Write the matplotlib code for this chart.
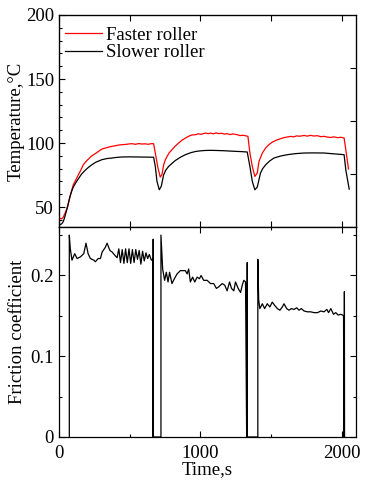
import numpy as np
import matplotlib
matplotlib.use("Agg")
import matplotlib.pyplot as plt
from matplotlib.ticker import MultipleLocator

# temperature readings, faster roller (time in s, temperature in C)
fastTime = [0, 19, 30, 43, 55, 62, 78, 90, 101, 120, 137, 155, 172, 190, 208, 230, 255, 280,
            303, 325, 350, 374, 400, 420, 445, 470, 495, 516, 540, 565, 587, 610, 630, 650,
            669, 681, 700, 716, 728, 740, 752, 764, 780, 799, 820, 846, 870, 894, 915, 940,
            965, 985, 1005, 1035, 1055, 1071, 1090, 1110, 1130, 1150, 1170, 1189, 1210, 1230,
            1260, 1280, 1300, 1319, 1336, 1350, 1367, 1385, 1402, 1414, 1438, 1460, 1484,
            1510, 1544, 1570, 1590, 1615, 1640, 1660, 1680, 1700, 1733, 1755, 1780, 1800,
            1828, 1850, 1875, 1900, 1922, 1945, 1970, 1995, 2016, 2028, 2047]
fastTemp = [41.4, 40.8, 42.0, 45.3, 48.5, 50.5, 58.3, 63.0, 67.4, 71.5, 75.2, 79.0, 83.0, 85.5,
            87.5, 89.8, 91.6, 93.5, 95.3, 96.0, 96.8, 97.4, 97.9, 98.4, 98.7, 98.9, 99.3, 99.5,
            99.0, 99.6, 99.2, 99.4, 99.0, 99.5, 99.5, 92.2, 80.5, 73.4, 75.2, 83.0, 86.8, 89.5,
            92.5, 94.8, 97.4, 100.0, 102.2, 103.9, 105.2, 106.3, 106.5, 107.2, 106.8, 107.8,
            107.3, 107.8, 107.2, 107.9, 107.4, 107.6, 107.0, 107.3, 106.6, 107.1, 106.5, 105.8,
            106.1, 105.7, 105.2, 92.2, 81.7, 73.9, 76.6, 85.6, 92.2, 96.0, 98.7, 100.8, 102.6,
            103.5, 104.2, 104.7, 105.2, 104.8, 105.6, 105.3, 105.9, 105.4, 106.0, 105.5, 105.7,
            105.0, 105.2, 104.6, 104.4, 104.8, 104.2, 104.5, 103.9, 94.8, 79.7]

# temperature readings, slower roller
slowTime = [7, 20, 31, 43, 55, 66, 78, 90, 101, 120, 137, 160, 184, 208, 232, 260, 303, 340,
            374, 410, 445, 500, 563, 620, 669, 681, 693, 709, 723, 740, 755, 775, 800, 823,
            860, 894, 930, 965, 1000, 1035, 1070, 1110, 1165, 1230, 1290, 1331, 1350, 1367,
            1385, 1402, 1425, 1440, 1461, 1490, 1520, 1565, 1615, 1670, 1733, 1800, 1874,
            1940, 2016, 2028, 2052]
slowTemp = [36.2, 37.0, 38.8, 43.0, 47.9, 53.0, 58.3, 62.5, 65.6, 69.2, 72.1, 75.8, 78.6, 81.0,
            83.0, 85.0, 87.0, 87.9, 88.3, 88.8, 89.1, 89.2, 89.1, 89.0, 88.9, 81.7, 70.0, 63.5,
            66.1, 75.2, 78.8, 81.7, 84.2, 86.4, 89.0, 90.9, 92.4, 93.4, 93.9, 94.2, 94.3, 94.2,
            94.0, 93.6, 93.3, 93.0, 81.7, 70.0, 63.5, 65.6, 76.6, 80.0, 83.0, 86.0, 88.3, 89.8,
            90.9, 91.7, 92.2, 92.3, 92.2, 91.6, 90.9, 79.1, 64.0]

# friction coefficient (spikes at the start/stop of each run included)
fricTime = [73, 73, 80, 92, 111, 128, 151, 175, 191, 206, 222, 246, 257, 277, 293, 305, 328,
            340, 360, 376, 395, 411, 423, 435, 447, 459, 471, 483, 495, 507, 519, 531, 543,
            555, 567, 579, 591, 603, 615, 627, 639, 653, 662, 666, 666, 667, 721, 721, 733,
            747, 759, 771, 782, 799, 816, 835, 858, 894, 906, 917, 929, 945, 960, 977, 993,
            1005, 1023, 1048, 1071, 1094, 1113, 1130, 1154, 1172, 1189, 1206, 1220, 1236,
            1248, 1267, 1284, 1296, 1307, 1319, 1327, 1331, 1331, 1332, 1406, 1406, 1412,
            1420, 1438, 1454, 1473, 1491, 1508, 1525, 1544, 1562, 1579, 1591, 1610, 1626,
            1643, 1662, 1681, 1697, 1714, 1733, 1757, 1780, 1804, 1828, 1851, 1874, 1894,
            1906, 1922, 1941, 1957, 1974, 1993, 2005, 2012, 2015, 2018, 2018, 2019]
fricCoef = [0, 0.250, 0.233, 0.219, 0.227, 0.221, 0.223, 0.227, 0.240, 0.227, 0.221, 0.219,
            0.217, 0.221, 0.221, 0.229, 0.235, 0.240, 0.231, 0.229, 0.225, 0.222, 0.233, 0.216,
            0.232, 0.215, 0.233, 0.216, 0.233, 0.215, 0.232, 0.216, 0.232, 0.220, 0.231, 0.214,
            0.230, 0.218, 0.228, 0.221, 0.226, 0.219, 0.220, 0, 0.245, 0, 0, 0.250, 0.208,
            0.194, 0.204, 0.192, 0.204, 0.190, 0.196, 0.202, 0.206, 0.206, 0.202, 0.208, 0.192,
            0.198, 0.192, 0.198, 0.196, 0.200, 0.194, 0.194, 0.190, 0.190, 0.184, 0.186, 0.190,
            0.188, 0.181, 0.192, 0.184, 0.181, 0.192, 0.184, 0.179, 0.188, 0.194, 0.192, 0, 0,
            0.216, 0, 0, 0.220, 0.170, 0.159, 0.165, 0.159, 0.165, 0.161, 0.167, 0.163, 0.159,
            0.157, 0.161, 0.165, 0.159, 0.157, 0.159, 0.158, 0.160, 0.157, 0.159, 0.156, 0.155,
            0.155, 0.154, 0.154, 0.156, 0.155, 0.158, 0.154, 0.159, 0.152, 0.154, 0.151, 0.152,
            0.151, 0.150, 0, 0, 0.180, 0]


def styleAxis(ax):
    ax.tick_params(which="both", direction="in", top=True, right=True, width=0.8)
    ax.tick_params(which="major", length=4)
    ax.tick_params(which="minor", length=2.5)
    for s in ax.spines.values():
        s.set_linewidth(0.9)


def main():
    plt.rcParams["font.family"] = ["Liberation Serif", "DejaVu Serif"]
    plt.rcParams["font.size"] = 13.5

    fig = plt.figure(figsize=(3.65, 4.8), dpi=100)
    left, width = 0.1616, 0.8137
    axT = fig.add_axes([left, 0.527, width, 0.4418])
    axF = fig.add_axes([left, 0.0896, width, 0.4374])

    # temperature panel
    r, = axT.plot(fastTime, fastTemp, color="red", lw=0.9)
    b, = axT.plot(slowTime, slowTemp, color="black", lw=0.9)
    axT.set_xlim(0, 2100)
    axT.set_ylim(34.4, 200)
    axT.yaxis.set_major_locator(MultipleLocator(50))
    axT.yaxis.set_minor_locator(MultipleLocator(10))
    axT.xaxis.set_major_locator(MultipleLocator(500))
    axT.set_xticklabels([])
    styleAxis(axT)
    axT.tick_params(which="both", right=False)
    axT.set_ylabel("Temperature,°C", labelpad=1)
    axT.legend([r, b], ["Faster roller", "Slower roller"], loc="upper left",
               bbox_to_anchor=(-0.012, 0.988), frameon=False, handlelength=2.0,
               handletextpad=0.2, labelspacing=0.0, borderaxespad=0.3, borderpad=0.2)

    # the right spine has its own unlabelled scale
    tw = axT.twinx()
    tw.set_ylim(0, 4)
    tw.set_yticks([1, 2, 3])
    tw.set_yticklabels([])
    tw.tick_params(direction="in", length=4, width=0.8)

    # friction panel
    axF.plot(fricTime, fricCoef, color="black", lw=0.9)
    axF.set_xlim(0, 2100)
    axF.set_ylim(0, 0.26)
    axF.xaxis.set_major_locator(MultipleLocator(1000))
    axF.xaxis.set_minor_locator(MultipleLocator(500))
    axF.yaxis.set_minor_locator(MultipleLocator(0.05))
    axF.set_yticks([0, 0.1, 0.2])
    axF.set_yticklabels(["0", "0.1", "0.2"])
    styleAxis(axF)
    axF.tick_params(axis="x", which="major", pad=6)
    axF.set_xlabel("Time,s", labelpad=-1)
    axF.set_ylabel("Friction coefficient", labelpad=3)

    fig.savefig("out.png", dpi=100)


if __name__ == '__main__':
    main()
